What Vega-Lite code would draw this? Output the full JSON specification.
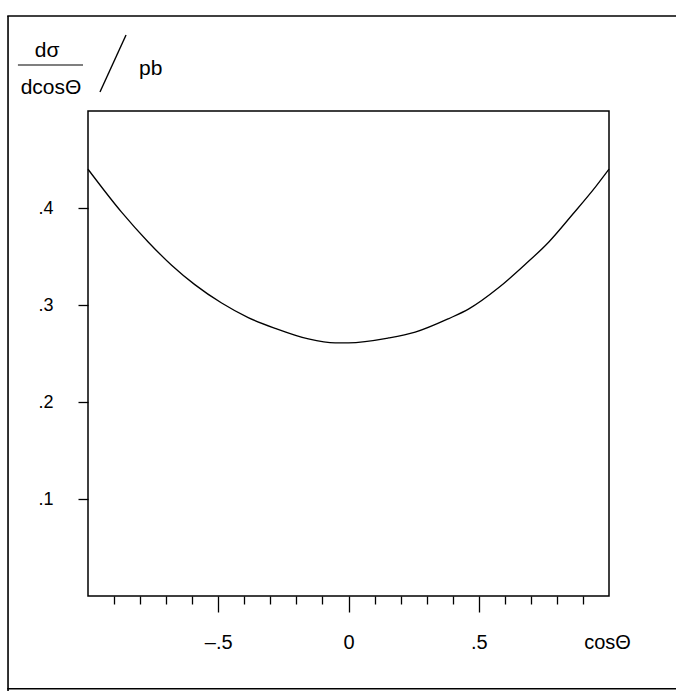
{
  "$schema": "https://vega.github.io/schema/vega-lite/v6.json",
  "width": 521,
  "height": 485,
  "autosize": {"type": "none"},
  "padding": {"left": 88, "top": 111, "right": 67, "bottom": 95},
  "background": "white",
  "config": {
    "font": "Liberation Sans",
    "view": {"stroke": "black", "strokeWidth": 1.5},
    "axis": {"grid": false, "domain": false, "tickColor": "black", "labelColor": "black", "titleColor": "black", "tickWidth": 1.3}
  },
  "resolve": {"axis": {"x": "independent", "y": "independent"}},
  "layer": [
    {
      "data": {
        "values": [
          {"c": -1.0, "s": 0.44},
          {"c": -0.872, "s": 0.396},
          {"c": -0.769, "s": 0.365},
          {"c": -0.679, "s": 0.341},
          {"c": -0.59, "s": 0.321},
          {"c": -0.487, "s": 0.302},
          {"c": -0.385, "s": 0.287},
          {"c": -0.282, "s": 0.276},
          {"c": -0.154, "s": 0.265},
          {"c": -0.051, "s": 0.261},
          {"c": 0.0, "s": 0.261},
          {"c": 0.154, "s": 0.266},
          {"c": 0.256, "s": 0.272},
          {"c": 0.385, "s": 0.286},
          {"c": 0.462, "s": 0.296},
          {"c": 0.577, "s": 0.318},
          {"c": 0.679, "s": 0.342},
          {"c": 0.769, "s": 0.365},
          {"c": 0.859, "s": 0.393},
          {"c": 0.949, "s": 0.422},
          {"c": 1.0, "s": 0.44}
        ]
      },
      "mark": {"type": "line", "color": "black", "strokeWidth": 1.3, "interpolate": "monotone"},
      "encoding": {
        "x": {
          "field": "c",
          "type": "quantitative",
          "scale": {"domain": [-1, 1], "nice": false, "zero": false},
          "axis": {
            "values": [-0.9, -0.8, -0.7, -0.6, -0.5, -0.4, -0.3, -0.2, -0.1, 0, 0.1, 0.2, 0.3, 0.4, 0.5, 0.6, 0.7, 0.8, 0.9],
            "tickSize": {"condition": {"test": "abs(datum.value*2 - round(datum.value*2)) < 0.001", "value": 16}, "value": 8},
            "labelExpr": "abs(datum.value*2 - round(datum.value*2)) < 0.001 ? (datum.value == 0 ? '0' : (datum.value < 0 ? '–.5' : '.5')) : ''",
            "labelOverlap": false,
            "labelFlush": false,
            "labelFontSize": 20,
            "labelPadding": 20,
            "title": "cosΘ",
            "titleFontSize": 20,
            "titleFontWeight": "normal",
            "titleAlign": "center",
            "titleBaseline": "alphabetic",
            "titleX": 519,
            "titleY": 52
          }
        },
        "y": {
          "field": "s",
          "type": "quantitative",
          "scale": {"domain": [0, 0.5], "nice": false, "zero": false},
          "axis": {
            "values": [0.1, 0.2, 0.3, 0.4],
            "tickSize": 10,
            "labelExpr": "'.' + round(datum.value*10)",
            "labelFontSize": 18,
            "labelPadding": 25,
            "labelOverlap": false,
            "title": null
          }
        }
      }
    },
    {
      "data": {"values": [{}]},
      "mark": {"type": "rule", "stroke": "black", "strokeWidth": 1.5},
      "encoding": {
        "x": {"datum": -1.31, "axis": null},
        "x2": {"datum": 1.6},
        "y": {"datum": 0.598, "axis": null}
      }
    },
    {
      "data": {"values": [{}]},
      "mark": {"type": "rule", "stroke": "black", "strokeWidth": 1.5},
      "encoding": {
        "x": {"datum": -1.31, "axis": null},
        "x2": {"datum": 1.6},
        "y": {"datum": -0.0955, "axis": null}
      }
    },
    {
      "data": {"values": [{}]},
      "mark": {"type": "rule", "stroke": "black", "strokeWidth": 1.6},
      "encoding": {
        "x": {"datum": -1.307, "axis": null},
        "y": {"datum": 0.598, "axis": null},
        "y2": {"datum": -0.12}
      }
    },
    {
      "data": {"values": [{}]},
      "mark": {"type": "rule", "stroke": "black", "strokeWidth": 1.2},
      "encoding": {
        "x": {"datum": -1.269, "axis": null},
        "x2": {"datum": -1.019},
        "y": {"datum": 0.5474, "axis": null}
      }
    },
    {
      "data": {"values": [{}]},
      "mark": {"type": "rule", "stroke": "black", "strokeWidth": 1.4},
      "encoding": {
        "x": {"datum": -0.954, "axis": null},
        "x2": {"datum": -0.854},
        "y": {"datum": 0.5196, "axis": null},
        "y2": {"datum": 0.5784}
      }
    },
    {
      "data": {"values": [{}]},
      "mark": {"type": "text", "text": "dσ", "fontSize": 21, "align": "center", "baseline": "alphabetic", "color": "black"},
      "encoding": {
        "x": {"datum": -1.157, "axis": null},
        "y": {"datum": 0.5557, "axis": null}
      }
    },
    {
      "data": {"values": [{}]},
      "mark": {"type": "text", "text": "dcosΘ", "fontSize": 21, "align": "center", "baseline": "alphabetic", "color": "black"},
      "encoding": {
        "x": {"datum": -1.142, "axis": null},
        "y": {"datum": 0.5175, "axis": null}
      }
    },
    {
      "data": {"values": [{}]},
      "mark": {"type": "text", "text": "pb", "fontSize": 21, "align": "left", "baseline": "alphabetic", "color": "black"},
      "encoding": {
        "x": {"datum": -0.804, "axis": null},
        "y": {"datum": 0.5371, "axis": null}
      }
    }
  ]
}
